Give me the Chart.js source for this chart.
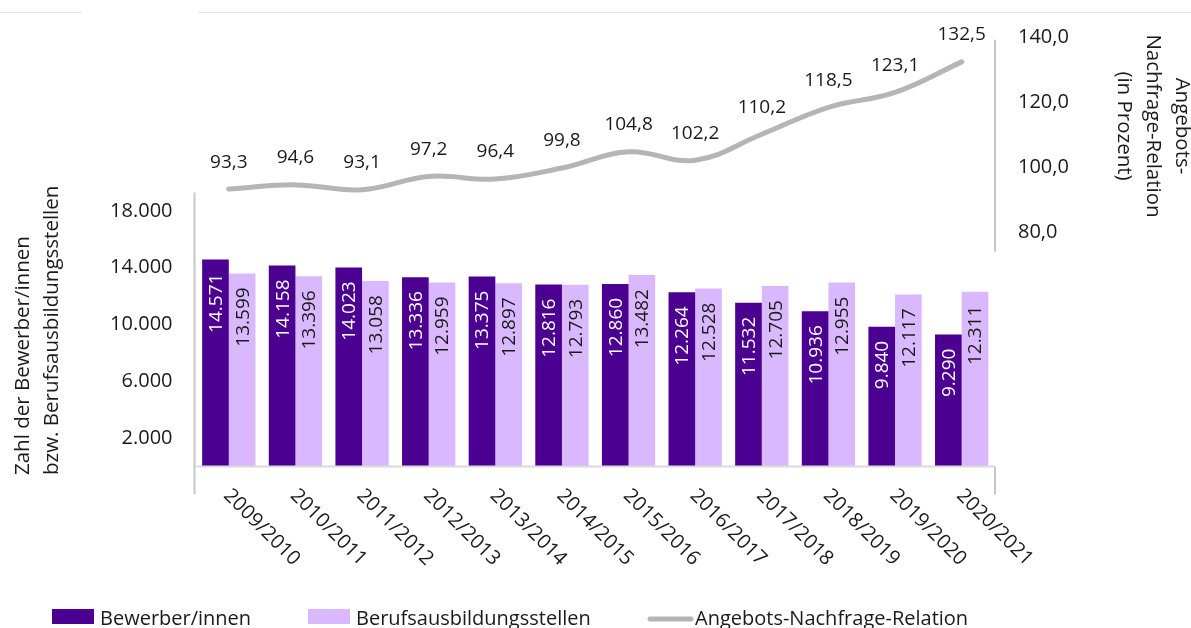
<!DOCTYPE html>
<html lang="de">
<head>
<meta charset="utf-8">
<title>Bewerber/innen und Berufsausbildungsstellen</title>
<script src="https://cdn.jsdelivr.net/npm/chart.js@4/dist/chart.umd.min.js"></script>
<style>
  html, body { margin: 0; padding: 0; background: #fff; }
  #wrap { position: relative; width: 1191px; height: 628px; }
</style>
</head>
<body>
<div id="wrap"><canvas id="chart" width="1191" height="628"></canvas></div>
<script>
// Daten
var categories = ['2009/2010', '2010/2011', '2011/2012', '2012/2013', '2013/2014', '2014/2015',
                  '2015/2016', '2016/2017', '2017/2018', '2018/2019', '2019/2020', '2020/2021'];
var bewerber = [14571, 14158, 14023, 13336, 13375, 12816, 12860, 12264, 11532, 10936, 9840, 9290];
var stellen = [13599, 13396, 13058, 12959, 12897, 12793, 13482, 12528, 12705, 12955, 12117, 12311];
var relation = [93.3, 94.6, 93.1, 97.2, 96.4, 99.8, 104.8, 102.2, 110.2, 118.5, 123.1, 132.5];
var leftTicks = [2000, 6000, 10000, 14000, 18000];
var rightTicks = [80, 100, 120, 140];

var dunkel = '#4b0091';
var hell = '#d9b8ff';
var grau = '#b5b5b5';
var textFarbe = '#1a1a1a';
var schrift = '"Open Sans", "Noto Sans", sans-serif';

// Zahlen im deutschen Format
function tausender(v) {
    return String(v).replace(/\B(?=(\d{3})+(?!\d))/g, '.');
}
function komma(v) {
    return v.toFixed(1).replace('.', ',');
}

var deko = {
    id: 'deko',
    beforeDraw: function (chart) {
        var ctx = chart.ctx;
        ctx.save();
        ctx.fillStyle = '#e6e6e6';
        ctx.fillRect(0, 12, 82, 1);
        ctx.fillRect(198, 12, 993, 1);
        ctx.restore();
    },
    afterDatasetsDraw: function (chart) {
        var ctx = chart.ctx;
        var area = chart.chartArea;
        var x = chart.scales.x, y = chart.scales.y, y1 = chart.scales.y1;

        ctx.save();
        // Achsenlinien
        ctx.lineWidth = 2;
        ctx.strokeStyle = '#c8c8c8';
        ctx.beginPath();
        ctx.moveTo(area.left - 1, y.getPixelForValue(19300));
        ctx.lineTo(area.left - 1, area.bottom + 28);
        ctx.moveTo(area.right, area.bottom);
        ctx.lineTo(area.right, area.bottom + 28);
        ctx.moveTo(area.right, y1.getPixelForValue(139.3));
        ctx.lineTo(area.right, y1.getPixelForValue(74));
        ctx.stroke();
        ctx.strokeStyle = '#dadada';
        ctx.beginPath();
        ctx.moveTo(area.left, area.bottom);
        ctx.lineTo(area.right, area.bottom);
        ctx.stroke();

        // Werte in den Balken
        ctx.font = '19px ' + schrift;
        ctx.textAlign = 'right';
        ctx.textBaseline = 'middle';
        [0, 1].forEach(function (d) {
            var werte = chart.data.datasets[d].data;
            chart.getDatasetMeta(d).data.forEach(function (bar, i) {
                ctx.save();
                ctx.fillStyle = d === 0 ? '#ffffff' : textFarbe;
                ctx.translate(bar.x, bar.y + 14);
                ctx.rotate(-Math.PI / 2);
                ctx.fillText(tausender(werte[i]), 0, 1);
                ctx.restore();
            });
        });

        // Werte über der Linie
        ctx.font = '19px ' + schrift;
        ctx.textAlign = 'center';
        ctx.fillStyle = textFarbe;
        chart.getDatasetMeta(2).data.forEach(function (pt, i) {
            ctx.fillText(komma(relation[i]), pt.x, pt.y - 27);
        });

        // Kategorien schräg
        ctx.font = '20px ' + schrift;
        ctx.textAlign = 'left';
        categories.forEach(function (c, i) {
            ctx.save();
            ctx.translate(x.getPixelForValue(i) - 2, area.bottom + 26);
            ctx.rotate(Math.PI / 4);
            ctx.fillText(c, 0, 0);
            ctx.restore();
        });

        // Achsentitel
        ctx.font = '20.5px ' + schrift;
        ctx.save();
        ctx.translate(23, 475);
        ctx.rotate(-Math.PI / 2);
        ctx.textAlign = 'left';
        ctx.fillText('Zahl der Bewerber/innen', 0, 0);
        ctx.fillText('bzw. Berufsausbildungsstellen', 0, 29);
        ctx.restore();

        ctx.save();
        ctx.translate(1182, 126);
        ctx.rotate(Math.PI / 2);
        ctx.textAlign = 'center';
        ctx.fillText('Angebots-', 0, 0);
        ctx.fillText('Nachfrage-Relation', 0, 29);
        ctx.fillText('(in Prozent)', 0, 58);
        ctx.restore();

        // Legende
        ctx.textBaseline = 'alphabetic';
        ctx.textAlign = 'left';
        ctx.font = '20px ' + schrift;
        ctx.fillStyle = dunkel;
        ctx.fillRect(52, 609, 42, 15);
        ctx.fillStyle = hell;
        ctx.fillRect(308, 609, 42, 15);
        ctx.strokeStyle = grau;
        ctx.lineWidth = 5;
        ctx.lineCap = 'round';
        ctx.beginPath();
        ctx.moveTo(650, 619);
        ctx.lineTo(691, 619);
        ctx.stroke();
        ctx.fillStyle = textFarbe;
        ctx.fillText('Bewerber/innen', 100, 625);
        ctx.fillText('Berufsausbildungsstellen', 356, 625);
        ctx.fillText('Angebots-Nachfrage-Relation', 695, 625);
        ctx.restore();
    }
};

// keine zusätzliche Polsterung durch die Achsenbeschriftung
function ohnePolster(breite) {
    return function (s) {
        s.width = breite;
        s.paddingTop = 0;
        s.paddingBottom = 0;
    };
}

function zeichnen() {
    var ctx = document.getElementById('chart').getContext('2d');
    new Chart(ctx, {
        type: 'bar',
        data: {
            labels: categories,
            datasets: [{
                label: 'Bewerber/innen',
                data: bewerber,
                backgroundColor: dunkel,
                yAxisID: 'y',
                order: 2
            }, {
                label: 'Berufsausbildungsstellen',
                data: stellen,
                backgroundColor: hell,
                yAxisID: 'y',
                order: 2
            }, {
                type: 'line',
                label: 'Angebots-Nachfrage-Relation',
                data: relation,
                borderColor: grau,
                borderWidth: 5,
                borderCapStyle: 'round',
                tension: 0.4,
                pointRadius: 0,
                fill: false,
                yAxisID: 'y1',
                order: 1
            }]
        },
        options: {
            responsive: false,
            animation: false,
            events: [],
            layout: { padding: { top: 20, bottom: 161.5, left: 0, right: 0 } },
            datasets: {
                bar: { categoryPercentage: 0.8, barPercentage: 1.0 }
            },
            plugins: {
                legend: { display: false },
                tooltip: { enabled: false },
                title: { display: false }
            },
            scales: {
                x: {
                    display: false,
                    offset: true,
                    grid: { display: false }
                },
                y: {
                    position: 'left',
                    min: 0,
                    max: 31444,
                    border: { display: false },
                    grid: { display: false, drawTicks: false },
                    afterFit: ohnePolster(195.5),
                    afterBuildTicks: function (s) {
                        s.ticks = leftTicks.map(function (v) { return { value: v }; });
                    },
                    ticks: {
                        padding: 23,
                        color: textFarbe,
                        font: { family: schrift, size: 20 },
                        callback: function (v) { return tausender(v); }
                    }
                },
                y1: {
                    position: 'right',
                    min: 7.83,
                    max: 145.4,
                    border: { display: false },
                    grid: { display: false, drawTicks: false },
                    afterFit: ohnePolster(196),
                    afterBuildTicks: function (s) {
                        s.ticks = rightTicks.map(function (v) { return { value: v }; });
                    },
                    ticks: {
                        padding: 23,
                        color: textFarbe,
                        font: { family: schrift, size: 20 },
                        callback: function (v) { return komma(v); }
                    }
                }
            }
        },
        plugins: [deko]
    });
}

if (document.fonts && document.fonts.load) {
    document.fonts.load('20px "Open Sans"').then(zeichnen, zeichnen);
} else {
    zeichnen();
}
</script>
</body>
</html>
